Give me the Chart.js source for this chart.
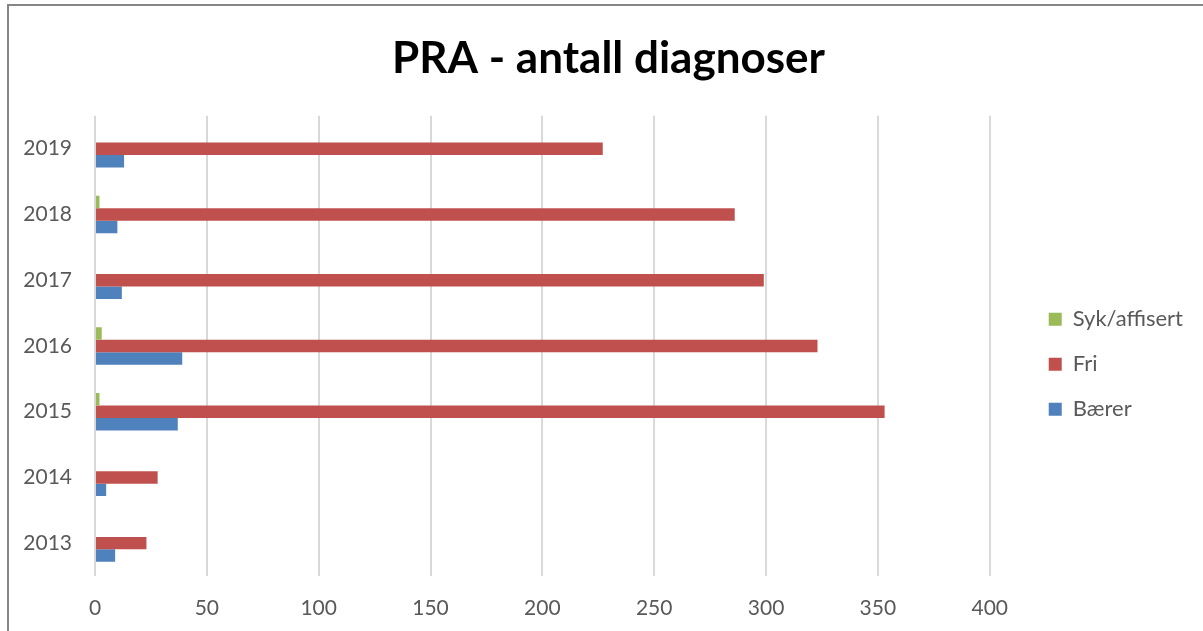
<!DOCTYPE html>
<html>
<head>
<meta charset="utf-8">
<script src="https://cdn.jsdelivr.net/npm/chart.js@4/dist/chart.umd.min.js"></script>
<style>
  html, body { margin: 0; padding: 0; background: #fff; }
  #wrap { position: relative; width: 1203px; height: 631px; overflow: hidden; }
  #frame { position: absolute; left: 7px; top: 4px; width: 1400px; height: 800px;
           border-left: 2px solid #868686; border-top: 2px solid #868686; box-sizing: border-box; }
  canvas { position: absolute; left: 0; top: 0; }
</style>
</head>
<body>
<div id="wrap">
  <div id="frame"></div>
  <canvas id="c" width="1203" height="631"></canvas>
</div>
<script>
const years = ['2019', '2018', '2017', '2016', '2015', '2014', '2013'];
const sykAffisert = [0, 2, 0, 3, 2, 0, 0];
const fri = [227, 286, 299, 323, 353, 28, 23];
const baerer = [13, 10, 12, 39, 37, 5, 9];
const xTicks = [0, 50, 100, 150, 200, 250, 300, 350, 400];

const FONT = 'Lato, "Open Sans", sans-serif';

new Chart(document.getElementById('c'), {
  type: 'bar',
  data: {
    labels: years,
    datasets: [
      { label: 'Syk/affisert', data: sykAffisert, backgroundColor: '#9BBB59' },
      { label: 'Fri', data: fri, backgroundColor: '#C0504D' },
      { label: 'Bærer', data: baerer, backgroundColor: '#4F81BD' }
    ]
  },
  options: {
    indexAxis: 'y',
    responsive: false,
    animation: false,
    events: [],
    categoryPercentage: 0.57,
    barPercentage: 1.0,
    layout: { padding: { left: 24, right: 10, top: 28, bottom: 10 } },
    plugins: {
      title: {
        display: true,
        text: 'PRA - antall diagnoser',
        color: '#000000',
        font: { family: FONT, size: 44, weight: 'bold' },
        padding: { top: 4, bottom: 31 }
      },
      legend: {
        position: 'right',
        title: { display: true, text: '', font: { size: 12 }, padding: { top: 0, bottom: 65 } },
        labels: {
          color: '#595959',
          font: { family: FONT, size: 22 },
          boxWidth: 13,
          boxHeight: 13,
          padding: 23
        }
      },
      tooltip: { enabled: false }
    },
    scales: {
      x: {
        min: 0,
        max: 400,
        afterBuildTicks: (axis) => { axis.ticks = xTicks.map(v => ({ value: v })); },
        afterFit: (s) => { s.height = 45; },
        grid: { color: '#D9D9D9', lineWidth: 2, drawTicks: false },
        border: { display: false },
        ticks: { color: '#595959', font: { family: FONT, size: 21 }, padding: 20 }
      },
      y: {
        afterFit: (s) => { s.width = 71; },
        grid: { display: false, drawTicks: false },
        border: { display: false },
        ticks: { color: '#595959', font: { family: FONT, size: 21 }, padding: 23 }
      },
      ySpacer: {
        type: 'category',
        position: 'right',
        grid: { display: false, drawTicks: false },
        border: { display: false },
        ticks: { display: false },
        afterFit: (s) => { s.width = 36; }
      }
    }
  }
});
</script>
</body>
</html>
